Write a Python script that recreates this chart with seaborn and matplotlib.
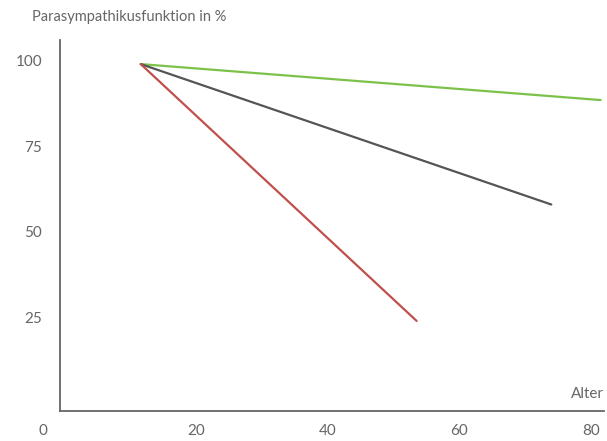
import matplotlib
matplotlib.use("Agg")
import matplotlib.pyplot as plt
import matplotlib.transforms as mtransforms
import seaborn as sns
import pandas as pd

# --- Data ---
age_start = [11.5, 11.5, 11.5]
age_end = [81.5, 74.0, 53.5]
func_start = [99.0, 99.0, 99.0]
func_end = [88.5, 58.0, 24.0]
groups = ["gruen", "grau", "rot"]
colors = {"gruen": "#7cc24a", "grau": "#555555", "rot": "#c0504d"}

x_ticks = [0, 20, 40, 60, 80]
y_ticks = [25, 50, 75, 100]

rows = []
for g, a0, a1, f0, f1 in zip(groups, age_start, age_end, func_start, func_end):
    rows.append({"group": g, "alter": a0, "funktion": f0})
    rows.append({"group": g, "alter": a1, "funktion": f1})
df = pd.DataFrame(rows)

sns.set_style("white")
plt.rcParams["font.family"] = ["Lato", "DejaVu Sans"]
text_color = "#666666"

fig = plt.figure(figsize=(6.07, 4.41), dpi=100)
ax = fig.add_axes([0.0988, 0.068, 0.896, 0.841])

sns.lineplot(data=df, x="alter", y="funktion", hue="group", palette=colors,
             linewidth=1.6, legend=False, ax=ax, sort=False)

ax.set_xlim(-0.8, 82)
ax.set_ylim(-2.3, 106)
ax.set_xticks(x_ticks)
ax.set_yticks(y_ticks)
ax.set_xlabel("")
ax.set_ylabel("")

for side in ["top", "right"]:
    ax.spines[side].set_visible(False)
for side in ["left", "bottom"]:
    ax.spines[side].set_color("#666666")
    ax.spines[side].set_linewidth(1.3)

ax.tick_params(axis="both", length=0, labelsize=11, colors=text_color)
ax.tick_params(axis="x", pad=9)
ax.tick_params(axis="y", pad=13)

# shift the "0" label left into the corner
xlabels = ax.get_xticklabels()
offset = mtransforms.ScaledTranslation(-22 / 100, 0, fig.dpi_scale_trans)
xlabels[0].set_transform(xlabels[0].get_transform() + offset)

fig.text(32 / 607, 1 - 17 / 441, "Parasympathikusfunktion in %", fontsize=10.5,
         color=text_color, ha="left", va="center")
ax.text(1.0, 10 / 370, "Alter", transform=ax.transAxes, fontsize=11,
        color=text_color, ha="right", va="bottom")

fig.savefig("out.png", dpi=100)
